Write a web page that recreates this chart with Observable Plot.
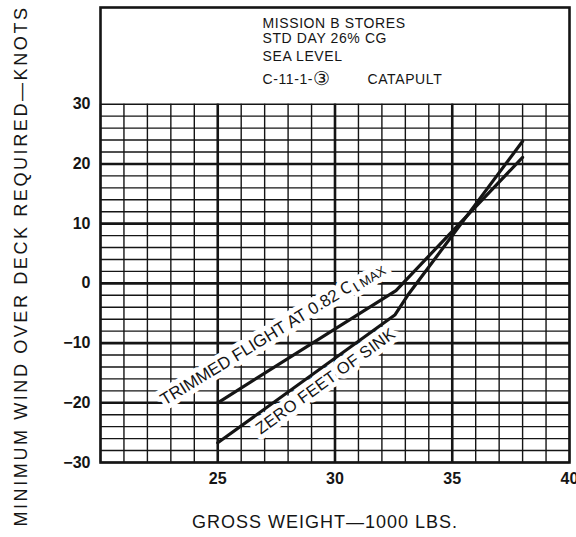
<!DOCTYPE html>
<html><head><meta charset="utf-8">
<script src="https://cdn.jsdelivr.net/npm/d3@7"></script>
<script src="https://cdn.jsdelivr.net/npm/@observablehq/plot@0.6"></script>
<style>body{margin:0;background:#fff} svg{display:block}</style>
</head><body><div id="chart"></div>
<script>
// ---- data ----
const xTicks = [25, 30, 35, 40];
const yTicks = [-30, -20, -10, 0, 10, 20, 30];
const gridWeights = [20,21,22,23,24,25,26,27,28,29,30,31,32,33,34,35,36,37,38,39,40];
const gridWinds = [-30,-28,-26,-24,-22,-20,-18,-16,-14,-12,-10,-8,-6,-4,-2,0,2,4,6,8,10,12,14,16,18,20,22,24,26,28,30];
const majorWeights = [25, 30, 35];
const majorWinds = [-20, -10, 0, 10, 20];
const trimmedWeight = [25, 32.6, 38];
const trimmedWind = [-20, -1.2, 21.1];
const sinkWeight = [25, 32.55, 33.1, 38];
const sinkWind = [-26.7, -5.3, -2.0, 23.8];
const headerLines = ["MISSION B STORES", "STD DAY 26% CG", "SEA LEVEL", "C-11-1-"];
const headerCircled = "③";
const headerTag = "CATAPULT";
const trimmedLabel = "TRIMMED FLIGHT AT 0.82 C";
const trimmedSub = "L";
const trimmedSub2 = "MAX";
const sinkLabel = "ZERO FEET OF SINK";
const xLabel = "GROSS WEIGHT—1000 LBS.";
const yLabel = "MINIMUM WIND OVER DECK REQUIRED—KNOTS";

const trimmed = trimmedWeight.map((w, i) => ({weight: w, wind: trimmedWind[i]}));
const sink = sinkWeight.map((w, i) => ({weight: w, wind: sinkWind[i]}));

const ink = "#151515";
const font = "'Liberation Sans', Arial, sans-serif";
const headerDy = [20, 35, 53, 76];

const chart = Plot.plot({
  width: 576, height: 537,
  marginLeft: 100, marginRight: 7, marginTop: 7, marginBottom: 75,
  style: {fontFamily: font, background: "#fff", color: ink},
  x: {domain: [20, 40]},
  y: {domain: [-30, 46.2]},
  marks: [
    Plot.ruleX(gridWeights, {y1: -30, y2: 30, stroke: ink, strokeWidth: 1.4}),
    Plot.ruleX(majorWeights, {y1: -30, y2: 30, stroke: ink, strokeWidth: 2.6}),
    Plot.ruleY(gridWinds, {x1: 20, x2: 40, stroke: ink, strokeWidth: 1.4}),
    Plot.ruleY(majorWinds, {x1: 20, x2: 40, stroke: ink, strokeWidth: 2.6}),
    Plot.frame({stroke: ink, strokeWidth: 2.6}),
    Plot.text([trimmedLabel], {x: trimmedWeight[0], y: trimmedWind[0], text: d => d,
      textAnchor: "start", lineAnchor: "bottom", rotate: -31.5, dx: -53, dy: 3,
      fontSize: 17, fill: ink, stroke: "white", strokeWidth: 10}),
    Plot.text([sinkLabel], {x: sinkWeight[0], y: sinkWind[0], text: d => d,
      textAnchor: "start", lineAnchor: "bottom", rotate: -36, dx: 43, dy: -8,
      fontSize: 16.5, fill: ink, stroke: "white", strokeWidth: 10}),
    Plot.line(trimmed, {x: "weight", y: "wind", stroke: ink, strokeWidth: 3.2}),
    Plot.line(sink, {x: "weight", y: "wind", stroke: ink, strokeWidth: 3.2}),
    Plot.axisX({ticks: xTicks, tickSize: 0, tickPadding: 10, fontSize: 16, fontWeight: "bold", label: null}),
    Plot.axisY({ticks: yTicks, tickSize: 0, tickPadding: 10, fontSize: 16, fontWeight: "bold", label: null}),
    ...headerLines.map((t, i) => Plot.text([t], {frameAnchor: "top-left", text: d => d, dx: 162, dy: headerDy[i],
      lineAnchor: "bottom", textAnchor: "start", fontSize: 14, fill: ink})),
    Plot.text([headerTag], {frameAnchor: "top-left", text: d => d, dx: 267, dy: headerDy[3],
      lineAnchor: "bottom", textAnchor: "start", fontSize: 14, fill: ink}),
    Plot.text([xLabel], {frameAnchor: "bottom", text: d => d, dx: -10, dy: 65, lineAnchor: "bottom",
      textAnchor: "middle", fontSize: 18, fill: ink}),
    Plot.text([yLabel], {frameAnchor: "left", text: d => d, dx: -79, dy: 31, rotate: -90, lineAnchor: "middle",
      textAnchor: "middle", fontSize: 18, fill: ink})
  ]
});

const svg = d3.select(chart);
const byText = s => svg.selectAll("text").filter(function() { return this.textContent === s; });
// subscript C_L MAX
byText(trimmedLabel).each(function() {
  const t = d3.select(this);
  t.append("tspan").attr("dy", "0.25em").attr("font-size", 14).text(trimmedSub);
  t.append("tspan").attr("dy", "-0.05em").attr("font-size", 13).text(trimmedSub2);
});
headerLines.forEach(h => byText(h).attr("letter-spacing", 0.6));
byText(headerTag).attr("letter-spacing", 0.6);
byText(headerLines[3]).append("tspan").attr("font-size", 19).attr("dy", "1").text(headerCircled);
byText(xLabel).attr("letter-spacing", 1);
byText(yLabel).attr("letter-spacing", 2.6);
byText(sinkLabel).attr("letter-spacing", 0.3);

document.getElementById("chart").appendChild(chart);
</script>
</body></html>
